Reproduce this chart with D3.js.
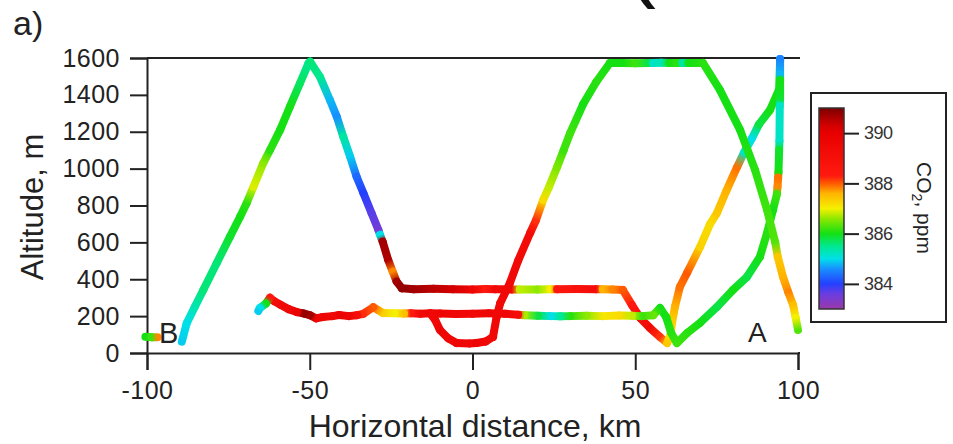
<!DOCTYPE html>
<html>
<head>
<meta charset="utf-8">
<script src="https://cdn.jsdelivr.net/npm/d3@7"></script>
<style>
  body { margin: 0; background: #fff; }
  svg { display: block; font-family: "Liberation Sans", Arial, sans-serif; }
</style>
</head>
<body>
<div id="chart"></div>
<script>
// axis ticks
const xTicks = [-100, -50, 0, 50, 100];
const yTicks = [0, 200, 400, 600, 800, 1000, 1200, 1400, 1600];
const cbTicks = [384, 386, 388, 390];

// colour table (ppm -> colour)
const cbValues = [383, 383.6, 384, 384.6, 385, 385.5, 386, 386.6, 387, 387.6, 388, 388.3, 390, 390.3, 391];
const cbColors = ['#9b38a8', '#6a3de0', '#2440ff', '#1890ff', '#00e0e8', '#00e890', '#14e014',
                  '#90e800', '#f4f000', '#ffb400', '#ff5a00', '#ff1a10', '#e80000', '#d40000', '#7c0000'];

// flight track: [distance km, altitude m, CO2 ppm]
const legB = [[-100.5, 88, 386.0], [-98.5, 85, 386.2], [-96.8, 85, 387.8]];

const legWest = [
  [-89.3, 61, 384.9], [-87.8, 161, 385.0], [-85.3, 251, 385.3], [-82.7, 342, 385.6],
  [-78.6, 487, 385.6], [-74.5, 631, 385.9], [-71.4, 739, 386.0], [-69.4, 812, 386.1],
  [-67.3, 902, 386.9], [-64.3, 1029, 386.6], [-62.2, 1101, 386.1], [-59.1, 1210, 386.0],
  [-56.1, 1336, 386.0], [-53.0, 1463, 385.7], [-50.4, 1571, 385.5], [-49.9, 1580, 385.6],
  [-46.9, 1499, 385.5], [-43.8, 1372, 384.8], [-41.7, 1282, 384.6], [-39.7, 1173, 385.4],
  [-37.6, 1065, 384.9], [-35.6, 956, 384.3], [-33.5, 866, 384.0], [-31.0, 758, 383.7],
  [-28.9, 667, 383.5], [-28.4, 640, 385.0], [-27.6, 604, 390.7], [-25.9, 504, 390.6],
  [-24.5, 441, 387.8], [-23.3, 387, 390.7], [-21.7, 351, 390.8],
  [-18, 346, 390.7], [-12, 348, 390.5], [-6, 346, 390.3], [0, 345, 389.6], [4, 347, 388.4],
  [7, 346, 389.4], [12, 345, 389.4], [14.5, 345, 386.8], [20, 345, 386.6], [24, 346, 387.0],
  [26, 346, 388.5], [32, 347, 388.8], [38, 346, 389.2], [40, 346, 387.6], [43, 345, 387.8],
  [46.2, 342, 388.0],
  [49.0, 260, 388.4], [51.5, 190, 389.0], [54.5, 136, 389.3], [57.6, 87, 388.2], [59.8, 54, 387.4],
  [60.8, 98, 387.2], [61.3, 163, 387.3], [62.2, 250, 387.6], [63.7, 358, 387.9], [65.9, 434, 388.0],
  [69.9, 575, 387.3], [73.0, 700, 387.2], [75.1, 759, 387.4], [78.0, 880, 387.6], [81.3, 1009, 387.9],
  [83.5, 1090, 385.2], [85.9, 1166, 385.0], [88.0, 1240, 385.8], [91.4, 1318, 386.0],
  [94.2, 1430, 386.0], [94.5, 1589, 385.6],
  [94.5, 1595, 384.5], [94.5, 1510, 384.8], [94.5, 1480, 386.0], [94.5, 1380, 385.9],
  [94.4, 1340, 385.2], [94.3, 1150, 385.2], [94.2, 1100, 385.9], [94.0, 980, 386.0],
  [93.9, 950, 387.9], [93.7, 900, 387.8], [93.5, 860, 386.2], [92.3, 776, 386.0],
  [90.5, 651, 386.1], [88.3, 521, 386.0], [84.3, 412, 385.8], [80.0, 342, 386.0],
  [75.1, 250, 385.8], [69.9, 163, 386.0], [65.9, 108, 386.1], [62.8, 54, 386.2],
  [61.0, 110, 386.1], [59.5, 195, 386.0], [57.6, 244, 386.0], [55.5, 205, 386.4],
  [52, 200, 386.2], [49, 202, 386.8], [45, 203, 387.2], [40, 200, 387.1], [35, 202, 386.6],
  [30, 200, 386.1], [27, 199, 385.5], [24, 200, 385.0], [20, 202, 385.8], [16, 205, 386.7],
  [14, 208, 389.2], [10, 213, 389.5], [5, 215, 389.6], [0, 213, 389.4], [-5, 212, 389.5],
  [-10, 214, 389.6], [-13, 215, 389.5], [-16, 213, 389.3], [-19, 215, 388.3], [-21, 214, 387.5],
  [-24, 216, 387.0], [-27.5, 217, 387.3], [-30.5, 248, 388.0], [-33.6, 212, 388.2],
  [-35.5, 205, 389.0], [-38, 200, 389.6], [-41, 206, 389.8], [-43, 200, 389.5], [-46, 195, 389.7],
  [-48, 188, 389.6], [-50, 205, 390.7], [-52, 215, 390.8], [-54, 222, 389.8], [-56.5, 238, 389.5],
  [-59, 262, 389.4], [-61, 282, 389.2], [-62.2, 300, 388.4], [-63.5, 268, 386.0], [-65.3, 244, 385.0],
  [-65.8, 228, 384.9]
];

const legEast = [
  [-13, 215, 389.5], [-11.5, 180, 389.5], [-10, 125, 389.6], [-7.5, 80, 389.5], [-4.9, 54, 389.6],
  [-1, 52, 389.5], [1.3, 54, 389.7], [4, 62, 389.5], [6.3, 87, 389.4], [7.4, 195, 389.5],
  [8.5, 270, 389.4], [11.5, 380, 389.4], [14, 500, 389.3], [17.7, 651, 389.2], [19.5, 720, 388.2],
  [21.7, 830, 387.2], [23.5, 900, 386.8], [26, 1009, 386.5], [28, 1100, 386.2], [30, 1193, 386.2],
  [34, 1350, 386.0], [38, 1470, 386.1], [42.2, 1573, 386.0],
  [46, 1573, 386.0], [50, 1572, 386.2], [54, 1573, 385.8], [55.5, 1573, 385.2], [58, 1574, 385.3],
  [60.5, 1573, 386.0], [63, 1573, 386.1], [64.5, 1573, 385.4], [66.5, 1573, 386.0], [70.8, 1573, 386.1],
  [76.0, 1427, 386.0], [82.2, 1210, 386.0], [86.8, 993, 386.1], [90.5, 776, 386.2], [93.0, 600, 386.3],
  [93.8, 520, 387.4], [95.4, 412, 387.6], [97.0, 330, 387.8], [98.5, 260, 387.5], [99.3, 190, 387.0],
  [100, 125, 386.3]
];

const W = 953, H = 444;
const svg = d3.select('#chart').append('svg').attr('width', W).attr('height', H);
const defs = svg.append('defs');

const x = d3.scaleLinear().domain([-100, 100]).range([147, 798]);
const y = d3.scaleLinear().domain([0, 1600]).range([353, 58]);
const color = d3.scaleLinear().domain(cbValues).range(cbColors).clamp(true);

// panel letter and the clipped glyph at the top
svg.append('text').attr('x', 13).attr('y', 35).attr('font-size', 34).attr('fill', '#222').text('a)');
svg.append('text').attr('x', 626).attr('y', -10).attr('font-size', 90).attr('fill', '#111').text('(');

// axes
const yAxis = svg.append('g').attr('transform', 'translate(147,0)')
  .call(d3.axisLeft(y).tickValues(yTicks).tickSize(17).tickPadding(10).tickFormat(d => String(d)));
const xAxis = svg.append('g').attr('transform', 'translate(0,353)')
  .call(d3.axisBottom(x).tickValues(xTicks).tickSize(17).tickPadding(11).tickFormat(d => String(d)));

[yAxis, xAxis].forEach(a => {
  a.selectAll('path, line').attr('stroke', '#222').attr('stroke-width', 2);
  a.selectAll('text').attr('font-size', 25).attr('fill', '#222')
    .attr('font-family', '"Liberation Sans", Arial, sans-serif').style('letter-spacing', '0.5px');
});

svg.append('line').attr('x1', 147).attr('x2', 800).attr('y1', 58).attr('y2', 58)
  .attr('stroke', '#222').attr('stroke-width', 2);
svg.append('line').attr('x1', 798).attr('x2', 800).attr('y1', 353).attr('y2', 353)
  .attr('stroke', '#222').attr('stroke-width', 2);

svg.append('text').attr('transform', 'translate(43,207) rotate(-90)')
  .attr('text-anchor', 'middle').attr('font-size', 31).attr('fill', '#222').text('Altitude, m');
svg.append('text').attr('x', 475).attr('y', 437)
  .attr('text-anchor', 'middle').attr('font-size', 32).attr('fill', '#222').text('Horizontal distance, km');

// track, each segment shaded from one sample colour to the next
function drawLeg(leg, name) {
  const g = svg.append('g').attr('class', name);
  for (let i = 0; i < leg.length - 1; i++) {
    const a = leg[i], b = leg[i + 1];
    const id = name + '-' + i;
    const grad = defs.append('linearGradient').attr('id', id).attr('gradientUnits', 'userSpaceOnUse')
      .attr('x1', x(a[0])).attr('y1', y(a[1])).attr('x2', x(b[0])).attr('y2', y(b[1]));
    grad.append('stop').attr('offset', 0).attr('stop-color', color(a[2]));
    grad.append('stop').attr('offset', 1).attr('stop-color', color(b[2]));
    g.append('line')
      .attr('x1', x(a[0])).attr('y1', y(a[1])).attr('x2', x(b[0])).attr('y2', y(b[1]))
      .attr('stroke', `url(#${id})`).attr('stroke-width', 8).attr('stroke-linecap', 'round');
  }
}
drawLeg(legWest, 'west');
drawLeg(legEast, 'east');
drawLeg(legB, 'bdots');

svg.append('text').attr('x', 159).attr('y', 343).attr('font-size', 29).attr('fill', '#222').text('B');
svg.append('text').attr('x', 748).attr('y', 342).attr('font-size', 28).attr('fill', '#222').text('A');

// colour bar
svg.append('rect').attr('x', 811).attr('y', 93).attr('width', 135).attr('height', 229)
  .attr('fill', '#fff').attr('stroke', '#222').attr('stroke-width', 2);

const cbScale = d3.scaleLinear().domain([383, 391]).range([309, 108]);
const cbGrad = defs.append('linearGradient').attr('id', 'cbgrad')
  .attr('x1', 0).attr('y1', 1).attr('x2', 0).attr('y2', 0);
cbValues.forEach((v, i) => {
  cbGrad.append('stop').attr('offset', (v - 383) / 8).attr('stop-color', cbColors[i]);
});
svg.append('rect').attr('x', 819).attr('y', 108).attr('width', 25).attr('height', 201)
  .attr('fill', 'url(#cbgrad)').attr('stroke', '#333').attr('stroke-width', 1.5);

const cbAxis = svg.append('g').attr('transform', 'translate(844,0)')
  .call(d3.axisRight(cbScale).tickValues(cbTicks).tickSize(15).tickPadding(5));
cbAxis.select('.domain').remove();
cbAxis.selectAll('line').attr('stroke', '#222').attr('stroke-width', 2);
cbAxis.selectAll('text').attr('font-size', 18).attr('fill', '#333')
  .attr('font-family', '"Liberation Sans", Arial, sans-serif').style('letter-spacing', '-0.5px');

const cbLabel = svg.append('text').attr('transform', 'translate(917,208) rotate(90)')
  .attr('text-anchor', 'middle').attr('font-size', 21).attr('fill', '#222');
cbLabel.append('tspan').text('CO');
cbLabel.append('tspan').attr('font-size', 14).attr('dy', 5).text('2');
cbLabel.append('tspan').attr('dy', -5).text(', ppm');
</script>
</body>
</html>
